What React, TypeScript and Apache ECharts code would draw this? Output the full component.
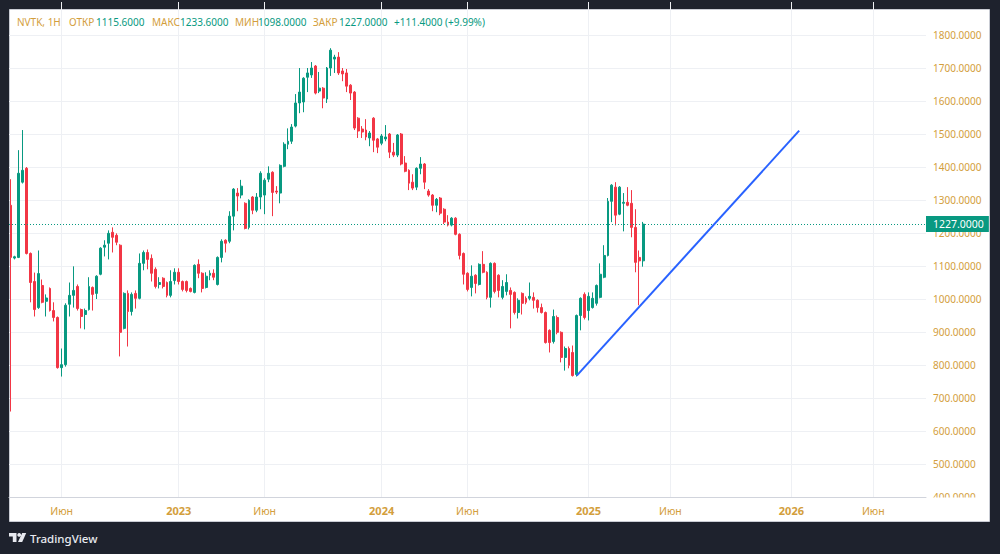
import React, { useEffect, useRef } from 'react';
import * as echarts from 'echarts';

// ---- data ----
const ticker = 'NVTK, 1H';
const startWeek = '2022-03-07';
const totalWeeks = 235;
const monthNames = ['Янв', 'Фев', 'Мар', 'Апр', 'Май', 'Июн', 'Июл', 'Авг', 'Сен', 'Окт', 'Ноя', 'Дек'];

const opens = [
  1284, 1124, 1126, 1354, 1396, 1138, 1053, 974, 1041, 993, 1032, 965, 944, 792, 801, 984, 1011, 1038, 968, 953,
  968, 1035, 1017, 1075, 1157, 1169, 1202, 1193, 1163, 911, 1017, 962, 1017, 1002, 1108, 1141, 1123, 1090, 1044, 1063,
  1050, 1011, 1056, 1081, 1053, 1053, 1032, 1020, 1105, 1078, 1035, 1072, 1078, 1044, 1126, 1178, 1175, 1251, 1321, 1315,
  1290, 1217, 1309, 1269, 1309, 1315, 1363, 1384, 1327, 1321, 1402, 1469, 1478, 1524, 1594, 1597, 1672, 1679, 1706, 1630,
  1639, 1606, 1700, 1727, 1733, 1691, 1685, 1648, 1627, 1548, 1515, 1512, 1488, 1548, 1485, 1472, 1485, 1500, 1445, 1436,
  1500, 1412, 1390, 1354, 1339, 1396, 1409, 1327, 1315, 1284, 1306, 1272, 1233, 1224, 1245, 1196, 1138, 1078, 1035, 1072,
  1044, 1105, 1081, 1005, 1108, 1072, 1005, 1023, 1026, 1020, 959, 1017, 1002, 1002, 1005, 996, 974, 959, 905, 871,
  944, 899, 823, 850, 838, 771, 950, 1014, 965, 974, 987, 1005, 1066, 1132, 1296, 1339, 1257, 1290, 1293, 1290,
  1217, 1126, 1115.6,
];
const closes = [
  1126, 1128, 1381, 1390, 1138, 1050, 968, 1077, 990, 1003, 965, 944, 792, 801, 981, 1011, 1026, 971, 947, 965,
  1038, 1014, 1069, 1154, 1163, 1199, 1187, 1172, 899, 1017, 962, 1014, 1002, 1108, 1141, 1120, 1078, 1038, 1050, 1038,
  1011, 1053, 1081, 1053, 1029, 1026, 1023, 1102, 1078, 1032, 1069, 1078, 1066, 1126, 1175, 1169, 1251, 1333, 1312, 1342,
  1214, 1299, 1269, 1309, 1381, 1360, 1381, 1323, 1324, 1405, 1469, 1478, 1521, 1594, 1627, 1669, 1685, 1700, 1624, 1639,
  1609, 1700, 1754, 1733, 1685, 1682, 1645, 1624, 1518, 1509, 1506, 1491, 1503, 1481, 1460, 1494, 1491, 1445, 1436, 1497,
  1409, 1387, 1351, 1336, 1396, 1409, 1354, 1315, 1284, 1302, 1260, 1233, 1224, 1245, 1196, 1132, 1075, 1029, 1069, 1047,
  1105, 1081, 1005, 1108, 1023, 1026, 1038, 1050, 1014, 959, 996, 987, 990, 1008, 996, 974, 959, 868, 868, 947,
  899, 823, 850, 799, 768, 950, 1002, 944, 1008, 1002, 1041, 1075, 1132, 1296, 1345, 1254, 1339, 1293, 1284, 1217,
  1111, 1115.6, 1227,
];
const lows = [
  659, 1120, 1124, 1350, 1135, 990, 947, 970, 987, 947, 962, 932, 789, 765, 795, 947, 974, 965, 911, 908,
  965, 965, 1000, 1072, 1129, 1120, 1141, 1163, 826, 908, 856, 950, 971, 999, 1087, 1090, 1053, 1032, 1032, 1032,
  1005, 1005, 1044, 1044, 1023, 1020, 1020, 1017, 1063, 1020, 1032, 1057, 1057, 1041, 1111, 1141, 1169, 1208, 1266, 1305,
  1211, 1211, 1257, 1263, 1272, 1257, 1354, 1251, 1318, 1290, 1399, 1454, 1470, 1520, 1563, 1566, 1627, 1670, 1620, 1624,
  1578, 1594, 1676, 1685, 1679, 1660, 1627, 1603, 1512, 1488, 1488, 1481, 1463, 1445, 1442, 1466, 1478, 1427, 1430, 1430,
  1405, 1384, 1330, 1330, 1330, 1378, 1333, 1310, 1266, 1263, 1254, 1227, 1220, 1220, 1193, 1120, 1044, 1023, 1008, 1017,
  1041, 1078, 999, 974, 1017, 1005, 999, 1011, 911, 953, 941, 953, 984, 996, 971, 959, 956, 865, 838, 865,
  893, 808, 783, 790, 765, 765, 905, 938, 935, 971, 980, 1002, 1063, 1129, 1233, 1223, 1254, 1205, 1281, 1187,
  1081, 981, 1098,
];
const highs = [
  1363, 1131, 1451, 1512, 1400, 1141, 1080, 1147, 1059, 1014, 1035, 990, 947, 850, 987, 1050, 1099, 1044, 971, 971,
  1066, 1038, 1072, 1157, 1178, 1208, 1217, 1199, 1166, 1020, 1026, 1020, 1026, 1138, 1147, 1150, 1135, 1096, 1066, 1066,
  1053, 1087, 1093, 1093, 1056, 1056, 1035, 1105, 1120, 1081, 1081, 1087, 1090, 1129, 1181, 1181, 1266, 1336, 1336, 1361,
  1293, 1302, 1312, 1321, 1387, 1366, 1402, 1387, 1342, 1408, 1475, 1517, 1530, 1621, 1700, 1672, 1700, 1718, 1709, 1688,
  1642, 1703, 1760, 1740, 1748, 1700, 1697, 1651, 1630, 1551, 1524, 1545, 1509, 1551, 1488, 1500, 1527, 1503, 1473, 1500,
  1503, 1433, 1393, 1378, 1399, 1430, 1412, 1333, 1318, 1306, 1309, 1275, 1254, 1248, 1248, 1199, 1141, 1081, 1102, 1075,
  1108, 1145, 1084, 1111, 1111, 1075, 1057, 1075, 1035, 1023, 1002, 1020, 1008, 1050, 1020, 999, 986, 962, 908, 968,
  950, 902, 856, 856, 859, 953, 1005, 1020, 1020, 1020, 1044, 1108, 1163, 1306, 1348, 1354, 1342, 1321, 1339, 1330,
  1272, 1147, 1233.6,
];

const priceMin = 400;
const priceMax = 1900;
const priceStep = 100;

const trendDates = ['2024-12-16', '2026-01-19'];
const trendValues = [768, 1510];

const headerLabels = ['ОТКР', 'МАКС', 'МИН', 'ЗАКР'];

// ---- derived ----
function buildWeeks(): string[] {
  const [y, m, d] = startWeek.split('-').map(Number);
  const t0 = Date.UTC(y, m - 1, d);
  const out: string[] = [];
  for (let i = 0; i < totalWeeks; i++) {
    const dt = new Date(t0 + i * 7 * 86400000);
    out.push(dt.toISOString().slice(0, 10));
  }
  return out;
}
const weeks = buildWeeks();

function isMarked(idx: number): boolean {
  if (idx === 0) return false;
  const m = Number(weeks[idx].slice(5, 7));
  const pm = Number(weeks[idx - 1].slice(5, 7));
  return m !== pm && (m === 1 || m === 6);
}

const GOLD = '#d39e3c';
const TEAL = '#089981';
const RED = '#f23645';
const FONT = "'Noto Sans', sans-serif";

export default function App() {
  const ref = useRef<HTMLDivElement>(null);
  useEffect(() => {
    document.body.style.margin = '0';
    const chart = echarts.init(ref.current!, null, { renderer: 'svg' });
    const last = opens.length - 1;
    const o = opens[last], h = highs[last], l = lows[last], c = closes[last];
    const prev = closes[last - 1];
    const chg = c - prev;
    const pct = (chg / prev) * 100;
    const headerVals = [o, h, l, c].map((v) => v.toFixed(4));
    const changeText = `${chg >= 0 ? '+' : ''}${chg.toFixed(4)} (${chg >= 0 ? '+' : ''}${pct.toFixed(2)}%)`;
    const labelX = [69, 152, 235, 313];
    const valueX = [95, 179, 257, 338];
    const HF = `10px ${FONT}`;

    const headerGraphics: any[] = [
      { type: 'text', x: 17, y: 22, z: 50, style: { text: ticker, fill: GOLD, font: HF, verticalAlign: 'middle' } },
    ];
    headerLabels.forEach((t, i) => {
      headerGraphics.push({ type: 'text', x: labelX[i], y: 22, z: 50, style: { text: t, fill: GOLD, font: HF, verticalAlign: 'middle' } });
      headerGraphics.push({ type: 'text', x: valueX[i] + 1, y: 22, z: 50, style: { text: headerVals[i], fill: TEAL, font: HF, verticalAlign: 'middle' } });
    });
    headerGraphics.push({ type: 'text', x: 394, y: 22, z: 50, style: { text: changeText, fill: TEAL, font: HF, verticalAlign: 'middle' } });

    const option: any = {
      animation: false,
      backgroundColor: '#1e222d',
      textStyle: { fontFamily: FONT },
      grid: { left: 9, right: 74, top: 2, bottom: 57 },
      xAxis: {
        type: 'category',
        data: weeks,
        boundaryGap: true,
        axisLine: { show: true, lineStyle: { color: '#d1d4dc', width: 1 } },
        axisTick: { show: false },
        axisLabel: {
          interval: (idx: number) => isMarked(idx),
          formatter: (v: string) => {
            const m = Number(v.slice(5, 7));
            return m === 1 ? `{y|${v.slice(0, 4)}}` : `{m|${monthNames[m - 1]}}`;
          },
          margin: 8,
          rich: {
            y: { color: GOLD, fontSize: 11, fontWeight: 'bold', fontFamily: FONT },
            m: { color: GOLD, fontSize: 10.5, fontFamily: FONT },
          },
        },
        splitLine: {
          show: true,
          alignWithLabel: true,
          interval: (idx: number) => isMarked(idx),
          lineStyle: { color: '#eef0f4', width: 1 },
        },
      },
      yAxis: {
        type: 'value',
        position: 'right',
        min: priceMin,
        max: priceMax,
        interval: priceStep,
        axisLine: { show: false },
        axisTick: { show: false },
        axisLabel: {
          color: GOLD,
          fontSize: 10,
          fontFamily: FONT,
          margin: 7,
          showMaxLabel: false,
          formatter: (v: number) => v.toFixed(4),
        },
        splitLine: { show: true, showMaxLine: false, lineStyle: { color: '#eef0f4', width: 1 } },
      },
      series: [
        {
          type: 'candlestick',
          barWidth: 2.4,
          data: opens.map((op, i) => [op, closes[i], lows[i], highs[i]]),
          itemStyle: { color: TEAL, color0: RED, borderColor: TEAL, borderColor0: RED, borderWidth: 1 },
          markLine: {
            silent: true,
            symbol: ['none', 'none'],
            data: [{ yAxis: c }],
            lineStyle: { color: TEAL, type: [1, 2], width: 1 },
            label: {
              show: true,
              position: 'end',
              distance: 0,
              formatter: () => c.toFixed(4),
              color: '#ffffff',
              backgroundColor: TEAL,
              fontSize: 10.5,
              fontFamily: FONT,
              padding: [3, 5, 2, 7],
            },
          },
          z: 3,
        },
        {
          type: 'line',
          data: trendDates.map((d, i) => [d, trendValues[i]]),
          symbol: 'none',
          lineStyle: { color: '#2962ff', width: 2 },
          z: 5,
        },
      ],
      graphic: [
        { type: 'rect', z: -100, shape: { x: 9.5, y: 9.5, width: 980, height: 512 }, style: { fill: '#ffffff', stroke: '#c9ccd4', lineWidth: 1 } },
        { type: 'rect', z: 40, shape: { x: 927, y: 497.5, width: 62, height: 23.5 }, style: { fill: '#ffffff' } },
        ...headerGraphics,
        { type: 'polygon', z: 50, shape: { points: [[9, 533], [16.5, 533], [16.5, 542], [12.8, 542], [12.8, 536.6], [9, 536.6]] }, style: { fill: '#e8eaf0' } },
        { type: 'circle', z: 50, shape: { cx: 19.2, cy: 534.9, r: 1.9 }, style: { fill: '#e8eaf0' } },
        { type: 'polygon', z: 50, shape: { points: [[22.2, 533], [26.2, 533], [22.2, 542], [18, 542]] }, style: { fill: '#e8eaf0' } },
        { type: 'text', z: 50, x: 30, y: 538, style: { text: 'TradingView', fill: '#e8eaf0', font: `500 11.5px ${FONT}`, verticalAlign: 'middle' } },
      ],
    };
    chart.setOption(option);
    return () => chart.dispose();
  }, []);
  return <div ref={ref} style={{ width: 1000, height: 554 }} />;
}
